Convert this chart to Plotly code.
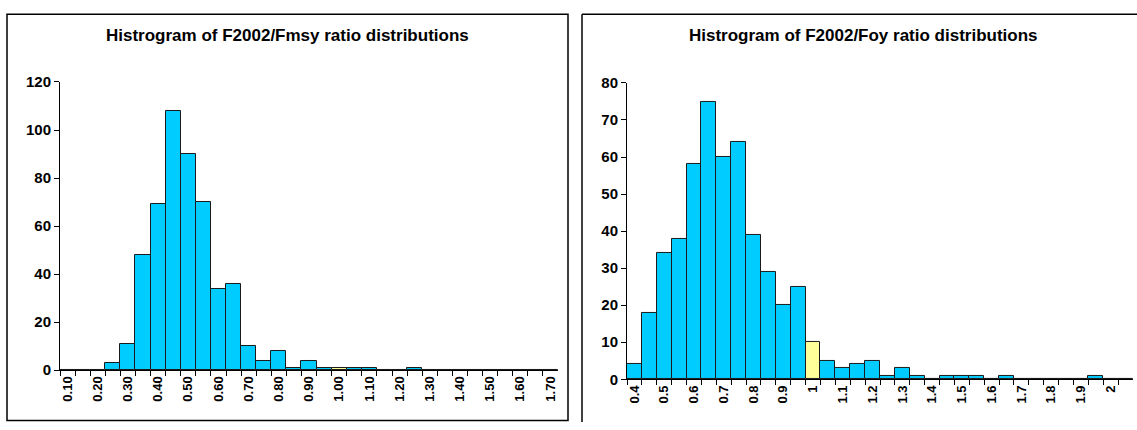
import plotly.graph_objects as go

# left panel: F2002/Fmsy
fmsy_cats = ["0.10", "0.15", "0.20", "0.25", "0.30", "0.35", "0.40", "0.45", "0.50", "0.55",
             "0.60", "0.65", "0.70", "0.75", "0.80", "0.85", "0.90", "0.95", "1.00", "1.05",
             "1.10", "1.15", "1.20", "1.25", "1.30", "1.35", "1.40", "1.45", "1.50", "1.55",
             "1.60", "1.65", "1.70"]
fmsy_counts = [0, 0, 0, 3, 11, 48, 69, 108, 90, 70,
               34, 36, 10, 4, 8, 1, 4, 1, 1, 1,
               1, 0, 0, 1, 0, 0, 0, 0, 0, 0,
               0, 0, 0]
fmsy_labels = ["0.10", "0.20", "0.30", "0.40", "0.50", "0.60", "0.70", "0.80", "0.90",
               "1.00", "1.10", "1.20", "1.30", "1.40", "1.50", "1.60", "1.70"]
fmsy_highlight = "1.00"

# right panel: F2002/Foy
foy_cats = ["0.4", "0.45", "0.5", "0.55", "0.6", "0.65", "0.7", "0.75", "0.8", "0.85",
            "0.9", "0.95", "1", "1.05", "1.1", "1.15", "1.2", "1.25", "1.3", "1.35",
            "1.4", "1.45", "1.5", "1.55", "1.6", "1.65", "1.7", "1.75", "1.8", "1.85",
            "1.9", "1.95", "2", "2.05"]
foy_counts = [4, 18, 34, 38, 58, 75, 60, 64, 39, 29,
              20, 25, 10, 5, 3, 4, 5, 1, 3, 1,
              0, 1, 1, 1, 0, 1, 0, 0, 0, 0,
              0, 1, 0, 0]
foy_labels = ["0.4", "0.5", "0.6", "0.7", "0.8", "0.9", "1", "1.1", "1.2", "1.3",
              "1.4", "1.5", "1.6", "1.7", "1.8", "1.9", "2"]
foy_highlight = "1"

W, H = 1137, 430
BAR = "#00CCFF"
HI = "#FFFF99"
FONT = "Liberation Sans, Arial, sans-serif"


def px_x(v):
    return v / W


def px_y(v):
    return 1 - v / H


def every_other(cats, labels):
    out = []
    for i in range(len(cats)):
        out.append(labels[i // 2] if i % 2 == 0 and i // 2 < len(labels) else "")
    return out


fig = go.Figure()
fig.add_trace(go.Bar(x=fmsy_cats, y=fmsy_counts, xaxis="x", yaxis="y",
                     marker=dict(color=[HI if c == fmsy_highlight else BAR for c in fmsy_cats],
                                 line=dict(color="#1a1a1a", width=1))))
fig.add_trace(go.Bar(x=foy_cats, y=foy_counts, xaxis="x2", yaxis="y2",
                     marker=dict(color=[HI if c == foy_highlight else BAR for c in foy_cats],
                                 line=dict(color="#1a1a1a", width=1))))

xcommon = dict(type="category", showline=True, linecolor="black", linewidth=1,
               ticks="outside", ticklen=5, tickcolor="black", tickson="boundaries",
               tickangle=-90, showgrid=False, zeroline=False, tickmode="array",
               tickfont=dict(family=FONT, size=13, color="black", weight="bold"))
ycommon = dict(showline=True, linecolor="black", linewidth=1, ticks="outside",
               ticklen=5, tickcolor="black", showgrid=False, zeroline=False,
               tickfont=dict(family=FONT, size=15, color="black", weight="bold"))

fig.update_layout(
    width=W, height=H, showlegend=False, bargap=0,
    margin=dict(l=0, r=0, t=0, b=0),
    paper_bgcolor="white", plot_bgcolor="white",
    xaxis=dict(xcommon, domain=[px_x(60), px_x(558)], anchor="y",
               range=[-0.5, len(fmsy_cats) - 0.5],
               tickvals=fmsy_cats, ticktext=every_other(fmsy_cats, fmsy_labels)),
    yaxis=dict(ycommon, domain=[px_y(376), px_y(76)], anchor="x",
               range=[0, 120], dtick=20),
    xaxis2=dict(xcommon, domain=[px_x(627), px_x(1133)], anchor="y2",
                range=[-0.5, len(foy_cats) - 0.5],
                tickvals=foy_cats, ticktext=every_other(foy_cats, foy_labels)),
    yaxis2=dict(ycommon, domain=[px_y(385.5), px_y(77)], anchor="x2",
                range=[0, 80], dtick=10),
)

fig.add_annotation(text="Histrogram of F2002/Fmsy ratio distributions",
                   x=px_x(287.5), y=px_y(28), xref="paper", yref="paper",
                   showarrow=False, xanchor="center", yanchor="middle",
                   font=dict(family=FONT, size=17, color="black", weight="bold"))
fig.add_annotation(text="Histrogram of F2002/Foy ratio distributions",
                   x=px_x(864), y=px_y(28), xref="paper", yref="paper",
                   showarrow=False, xanchor="center", yanchor="middle",
                   font=dict(family=FONT, size=17, color="black", weight="bold"))

# panel frames
fig.add_shape(type="rect", xref="paper", yref="paper",
              x0=px_x(7), x1=px_x(568), y0=px_y(428.5), y1=px_y(5.5),
              line=dict(color="black", width=1.5))
fig.add_shape(type="line", xref="paper", yref="paper",
              x0=px_x(582), x1=1.0, y0=px_y(5.5), y1=px_y(5.5),
              line=dict(color="black", width=1.5))
fig.add_shape(type="line", xref="paper", yref="paper",
              x0=px_x(582), x1=px_x(582), y0=0, y1=px_y(5.5),
              line=dict(color="black", width=1.5))

# the page body has a default 8px margin; drop it so the figure sits at the window origin
fig.write_html("out.html", config={"displayModeBar": False},
               post_script="document.body.style.margin='0';")
